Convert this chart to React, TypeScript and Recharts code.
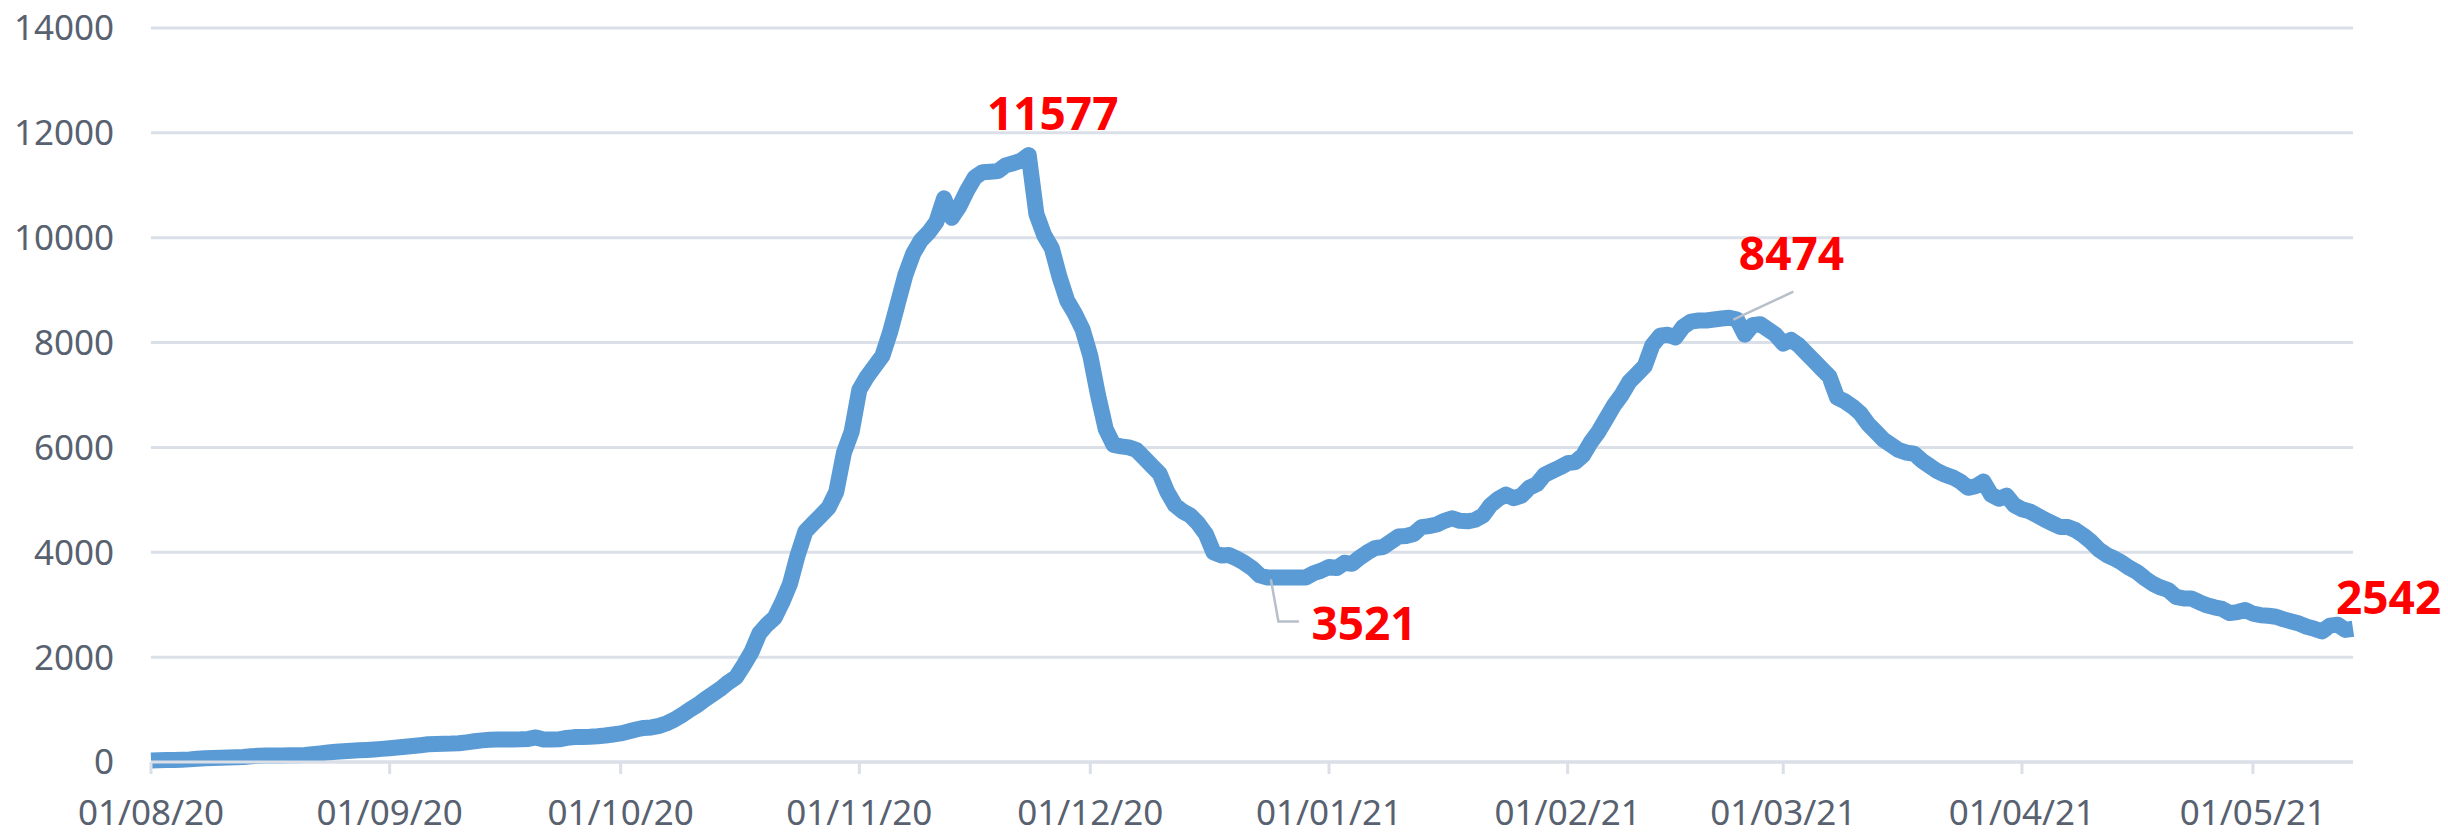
import React from "react";
import { LineChart, Line, XAxis, YAxis, CartesianGrid, LabelList } from "recharts";

const startDate = "2020-08-01";

const augValues = [30, 35, 38, 40, 45, 50, 60, 70, 75, 80, 85, 90, 95, 110, 120, 122, 125, 125, 128, 130, 135, 150, 165, 180, 195, 205, 215, 222, 230, 240, 250];
const sepValues = [262, 275, 290, 305, 320, 338, 345, 350, 352, 358, 375, 395, 412, 425, 428, 430, 430, 432, 440, 468, 428, 430, 432, 460, 475, 478, 480, 490, 505, 525];
const octValues = [545, 580, 620, 650, 660, 690, 740, 810, 900, 1000, 1090, 1200, 1300, 1400, 1520, 1620, 1850, 2100, 2450, 2620, 2750, 3050, 3400, 3950, 4400, 4550, 4700, 4850, 5150, 5900, 6300];
const novValues = [7100, 7350, 7550, 7750, 8200, 8750, 9300, 9700, 9950, 10100, 10300, 10750, 10380, 10600, 10900, 11150, 11250, 11260, 11270, 11380, 11420, 11470, 11577, 10450, 10050, 9800, 9250, 8800, 8550, 8250];
const decValues = [7750, 7000, 6350, 6050, 6020, 6000, 5950, 5800, 5650, 5500, 5150, 4900, 4780, 4700, 4550, 4350, 4000, 3940, 3950, 3880, 3800, 3700, 3560, 3521, 3521, 3521, 3521, 3521, 3521, 3600, 3650];
const janValues = [3720, 3700, 3800, 3780, 3900, 4000, 4080, 4100, 4200, 4300, 4310, 4350, 4480, 4500, 4530, 4600, 4650, 4600, 4590, 4620, 4700, 4900, 5020, 5100, 5030, 5080, 5230, 5300, 5480, 5550, 5620];
const febValues = [5700, 5720, 5850, 6100, 6300, 6550, 6800, 7000, 7250, 7400, 7550, 7950, 8130, 8150, 8100, 8300, 8400, 8420, 8420, 8440, 8460, 8474, 8440, 8150, 8330, 8350, 8250, 8150];
const marValues = [7980, 8050, 7950, 7800, 7650, 7500, 7350, 6950, 6880, 6780, 6650, 6450, 6300, 6150, 6050, 5950, 5900, 5880, 5750, 5650, 5550, 5480, 5430, 5350, 5230, 5260, 5350, 5100, 5020, 5080, 4900];
const aprValues = [4820, 4780, 4700, 4620, 4550, 4480, 4480, 4420, 4320, 4200, 4050, 3950, 3880, 3800, 3700, 3620, 3500, 3400, 3330, 3280, 3150, 3120, 3120, 3050, 2990, 2950, 2920, 2840, 2860, 2900];
const mayValues = [2830, 2800, 2790, 2770, 2720, 2680, 2640, 2580, 2540, 2490, 2600, 2620, 2520, 2542];

const tickDates = ["2020-08-01", "2020-09-01", "2020-10-01", "2020-11-01", "2020-12-01", "2021-01-01", "2021-02-01", "2021-03-01", "2021-04-01", "2021-05-01"];
const tickLabels = ["01/08/20", "01/09/20", "01/10/20", "01/11/20", "01/12/20", "01/01/21", "01/02/21", "01/03/21", "01/04/21", "01/05/21"];
const yTicks = [0, 2000, 4000, 6000, 8000, 10000, 12000, 14000];
const annotatedDays = [114, 145, 205, 286];

const seriesValues = [
  ...augValues, ...sepValues, ...octValues, ...novValues, ...decValues,
  ...janValues, ...febValues, ...marValues, ...aprValues, ...mayValues,
];

const DAY_MS = 86400000;
const dayOf = (iso: string) => Math.round((Date.parse(iso) - Date.parse(startDate)) / DAY_MS);
const tickDays = tickDates.map(dayOf);
const lastDay = seriesValues.length - 1;

const data = seriesValues.map((v, i) => ({
  day: i,
  cases: v,
  note: annotatedDays.includes(i) ? i : null,
}));

const labelFor = (day: number) => {
  const i = tickDays.indexOf(day);
  return i >= 0 ? tickLabels[i] : "";
};

// annotation placement relative to its data point (dx, dy of text; optional leader path)
const noteStyle = [
  { dx: 24, dy: -25, anchor: "middle", leader: null },
  { dx: 44, dy: 63, anchor: "start", leader: [[3.5, 2], [11, 44], [31.5, 44]] },
  { dx: 9.5, dy: -48, anchor: "start", leader: [[4, 2], [64, -26]] },
  { dx: -17, dy: -15, anchor: "start", leader: null },
];

const NoteLabel = (props: any) => {
  const value = props.value;
  if (value === null || value === undefined || value === "") return null;
  const day = Number(value);
  const k = annotatedDays.indexOf(day);
  if (k < 0) return null;
  const x = props.viewBox?.x ?? props.x;
  const y = props.viewBox?.y ?? props.y;
  const st = noteStyle[k];
  return (
    <g>
      {st.leader && (
        <polyline
          points={st.leader.map(([a, b]) => `${x + a},${y + b}`).join(" ")}
          fill="none"
          stroke="#b7bfcb"
          strokeWidth={2.5}
        />
      )}
      <text
        x={x + st.dx}
        y={y + st.dy}
        textAnchor={st.anchor as any}
        fill="#ff0000"
        fontFamily="'Noto Sans', 'Liberation Sans', sans-serif"
        fontWeight={700}
        fontSize={46}
      >
        {seriesValues[day]}
      </text>
    </g>
  );
};

const axisFont = { fontFamily: "'Noto Sans', 'Liberation Sans', sans-serif", fontSize: 35, fill: "#586170" };

export default function App() {
  return (
    <div style={{ position: "fixed", left: 0, top: 0, width: 2448, height: 834, background: "#ffffff" }}>
      <LineChart
        width={2448}
        height={834}
        data={data}
        margin={{ top: 28, right: 95, bottom: 0, left: 0 }}
      >
        <CartesianGrid horizontal={true} vertical={false} stroke="#dadfe8" strokeWidth={3} />
        <XAxis
          dataKey="day"
          type="number"
          domain={[0, lastDay]}
          ticks={tickDays}
          tickFormatter={labelFor}
          height={72}
          tickSize={12}
          tickMargin={26}
          axisLine={{ stroke: "#dadfe8", strokeWidth: 3 }}
          tickLine={{ stroke: "#dadfe8", strokeWidth: 3 }}
          tick={axisFont}
          interval={0}
        />
        <YAxis
          domain={[0, 14000]}
          ticks={yTicks}
          width={151}
          tickSize={0}
          tickMargin={37}
          axisLine={false}
          tickLine={false}
          tick={axisFont}
          interval={0}
        />
        <Line
          type="linear"
          dataKey="cases"
          stroke="#5b9bd5"
          strokeWidth={16}
          strokeLinejoin="round"
          dot={false}
          activeDot={false}
          isAnimationActive={false}
        >
          <LabelList dataKey="note" content={<NoteLabel />} />
        </Line>
      </LineChart>
    </div>
  );
}
